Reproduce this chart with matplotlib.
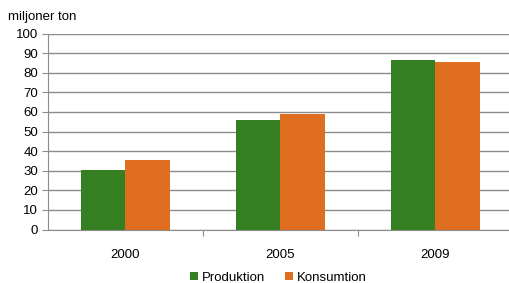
import numpy as np
import matplotlib.pyplot as plt

years = ['2000', '2005', '2009']
produktion = [30.3, 56.0, 86.3]
konsumtion = [35.5, 59.1, 85.6]

plt.rcParams['font.family'] = ['Liberation Sans', 'DejaVu Sans']
plt.rcParams['font.size'] = 9.5

fig = plt.figure(figsize=(5.1, 2.83), dpi=100)
ax = fig.add_axes([48 / 510, 1 - 229.5 / 283, 465 / 510, 196 / 283])

x = np.arange(len(years))
w = 0.285
ax.bar(x - w / 2, produktion, w, color='#337f21', label='Produktion', zorder=3)
ax.bar(x + w / 2, konsumtion, w, color='#e06e21', label='Konsumtion', zorder=3)

ax.set_xlim(-0.5, 2.5)
ax.set_ylim(0, 100)
ax.set_yticks(range(0, 101, 10))
ax.yaxis.grid(True, color='#8c8c8c', linewidth=1, zorder=0)
ax.set_xticks([0.5, 1.5])
ax.set_xticklabels([])
ax.set_xticks(x, minor=True)
ax.set_xticklabels(years, minor=True)
ax.tick_params(axis='x', which='minor', length=0, pad=14)
ax.tick_params(axis='x', which='major', length=4, color='#8c8c8c')
ax.tick_params(axis='y', length=4, color='#8c8c8c', pad=3)

for s in ['top', 'right']:
    ax.spines[s].set_visible(False)
ax.spines['left'].set_color('#8c8c8c')
ax.spines['bottom'].set_color('#8c8c8c')

fig.text(8 / 510, 1 - 17 / 283, 'miljoner ton', ha='left', va='center')

ax.legend(loc='center', bbox_to_anchor=(0.5 - 2 / 465, -0.245), ncol=2, frameon=False,
          handlelength=0.6, handleheight=0.6, handletextpad=0.3, columnspacing=1.5,
          borderaxespad=0)

fig.savefig('out.png', dpi=100)
